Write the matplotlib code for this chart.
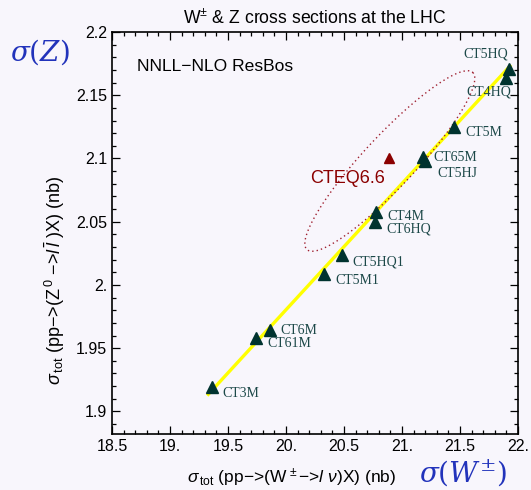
import numpy as np
import matplotlib
matplotlib.use('Agg')
import matplotlib.pyplot as plt
from matplotlib.ticker import MultipleLocator, FixedLocator, FixedFormatter

# PDF sets: W cross section (nb), Z cross section (nb)
pdf_names = ['CT5HQ', 'CT4HQ', 'CT5M', 'CT65M', 'CT5HJ', 'CT4M', 'CT6HQ',
             'CT5HQ1', 'CT5M1', 'CT6M', 'CT61M', 'CT3M']
sigma_w = [21.92, 21.90, 21.45, 21.18, 21.20, 20.78, 20.77, 20.48, 20.33, 19.86, 19.74, 19.36]
sigma_z = [2.171, 2.164, 2.125, 2.101, 2.098, 2.058, 2.050, 2.024, 2.009, 1.964, 1.958, 1.919]
# label offsets in pixels (dx, dy) and alignment
label_off = [(-23, 15, 'center'), (-40, -14, 'left'), (11, -6, 'left'), (10, 0, 'left'),
             (12, -13, 'left'), (11, -5, 'left'), (11, -7, 'left'), (11, -7, 'left'),
             (11, -7, 'left'), (11, 0, 'left'), (12, -5, 'left'), (11, -6, 'left')]

cteq66_w, cteq66_z = 20.89, 2.100

# linear fit line end points
fit_w = [19.32, 21.94]
fit_z = [1.9125, 2.174]

# error ellipse: center, two conjugate half-axes (data units)
ell_center = (20.895, 2.098)
ell_major = (0.715, 0.070)
ell_minor = (0.160, -0.0140)

xticks = [18.5, 19.0, 19.5, 20.0, 20.5, 21.0, 21.5, 22.0]
xticklabels = ['18.5', '19.', '19.5', '20.', '20.5', '21.', '21.5', '22.']
yticks = [1.9, 1.95, 2.0, 2.05, 2.1, 2.15, 2.2]
yticklabels = ['1.9', '1.95', '2.', '2.05', '2.1', '2.15', '2.2']

bg = '#f8f6fc'
plt.rcParams['font.family'] = ['Liberation Sans', 'DejaVu Sans']
plt.rcParams['mathtext.fontset'] = 'custom'
plt.rcParams['mathtext.rm'] = 'Liberation Sans'
plt.rcParams['mathtext.it'] = 'Liberation Sans:italic'

fig = plt.figure(figsize=(5.31, 4.90), dpi=100, facecolor=bg)
ax = fig.add_axes([0.211, 0.114, 0.7645, 0.8207])
ax.set_facecolor(bg)

ax.plot(fit_w, fit_z, color='#ffff00', lw=2.4, solid_capstyle='butt', zorder=2)

t = np.linspace(0, 2 * np.pi, 300)
ex = ell_center[0] + ell_major[0] * np.cos(t) + ell_minor[0] * np.sin(t)
ey = ell_center[1] + ell_major[1] * np.cos(t) + ell_minor[1] * np.sin(t)
ax.plot(ex, ey, color='#a02030', lw=1.0, ls=(0, (1, 2.2)), zorder=2)

ax.plot(sigma_w, sigma_z, ls='none', marker='^', ms=8, color='#00332f', zorder=3)
ax.plot([cteq66_w], [cteq66_z], ls='none', marker='^', ms=7, color='#8b0000', zorder=3)

for name, w, z, (dx, dy, ha) in zip(pdf_names, sigma_w, sigma_z, label_off):
    ax.annotate(name, (w, z), xytext=(dx, dy), textcoords='offset pixels',
                ha=ha, va='center', fontsize=10, color='#1c4848',
                family='Liberation Serif')

ax.text(20.53, 2.084, 'CTEQ6.6', color='#8b0000', fontsize=13, ha='center', va='center')
ax.text(0.062, 0.915, 'NNLL\u2212NLO ResBos', transform=ax.transAxes, fontsize=12.6,
        ha='left', va='center')

ax.set_xlim(18.5, 22.0)
ax.set_ylim(1.882, 2.2)
ax.xaxis.set_major_locator(FixedLocator(xticks))
ax.xaxis.set_major_formatter(FixedFormatter(xticklabels))
ax.yaxis.set_major_locator(FixedLocator(yticks))
ax.yaxis.set_major_formatter(FixedFormatter(yticklabels))
ax.xaxis.set_minor_locator(MultipleLocator(0.1))
ax.yaxis.set_minor_locator(MultipleLocator(0.01))
ax.tick_params(which='both', direction='in', top=True, right=True, labelsize=11.5, width=0.9)
ax.tick_params(which='major', length=6)
ax.tick_params(which='minor', length=3)
for s in ax.spines.values():
    s.set_linewidth(1.2)

ax.set_title(r'W$^{\pm}$ & Z cross sections at the LHC', fontsize=12.7, pad=6)
ax.set_xlabel(r'$\sigma_{\,\mathrm{tot}}$ (pp$-$>(W$^{\,\pm}$$-$>$l$ $\nu$)X) (nb)',
              fontsize=12.5, va='center')
ax.xaxis.set_label_coords(0.443, -0.109)
ax.set_ylabel(r'$\sigma_{\,\mathrm{tot}}$ (pp$-$>(Z$^{\,0}$ $-$>$l\,\bar{l}$ )X) (nb)',
              fontsize=13, va='center')
ax.yaxis.set_label_coords(-0.14, 0.383)

fig.text(0.075, 0.893, r'$\sigma(Z)$', color='#2233bb', fontsize=20, ha='center', va='center',
         math_fontfamily='dejavuserif')
fig.text(0.872, 0.035, r'$\sigma(W^{\pm})$', color='#2233bb', fontsize=20, ha='center', va='center',
         math_fontfamily='dejavuserif')

fig.savefig('out.png', dpi=100, facecolor=bg)
